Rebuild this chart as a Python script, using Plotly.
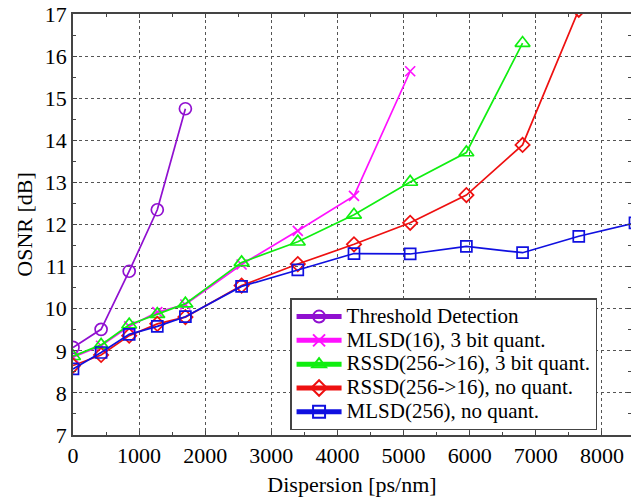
import plotly.graph_objects as go

disp = [0, 425, 850, 1275, 1700, 2550, 3400, 4250, 5100, 5950, 6800, 7650, 8500]

thr = [9.08, 9.51, 10.89, 12.35, 14.75]
mlsd16_q = [8.85, 9.12, 9.58, 9.92, 10.1, 11.05, 11.85, 12.68, 15.64]
rssd_q = [8.87, 9.14, 9.62, 9.87, 10.12, 11.1, 11.59, 12.23, 13.01, 13.71, 16.31]
rssd_nq = [8.65, 8.9, 9.36, 9.64, 9.8, 10.55, 11.06, 11.53, 12.04, 12.7, 13.89, 17.1]
mlsd256 = [8.57, 8.96, 9.39, 9.58, 9.81, 10.53, 10.92, 11.31, 11.3, 11.48, 11.33, 11.72, 12.04]

names = ["Threshold Detection", "MLSD(16), 3 bit quant.", "RSSD(256->16), 3 bit quant.",
         "RSSD(256->16), no quant.", "MLSD(256), no quant."]
series = [thr, mlsd16_q, rssd_q, rssd_nq, mlsd256]
colors = ["#9010d0", "#ff10ff", "#10ee10", "#ee1010", "#1010e0"]
symbols = ["circle-open", "x-thin-open", "triangle-up-open", "diamond-open", "square-open"]
sizes = [12, 10, 13, 11, 11]

FAM = "Liberation Serif"
fig = go.Figure()
for n, s, c, sym, sz in zip(names, series, colors, symbols, sizes):
    fig.add_trace(go.Scatter(
        x=disp[:len(s)], y=s,
        name='<span style="font-size:21px">' + n.replace(">", "&gt;") + '</span>',
        mode="lines+markers",
        line=dict(color=c, width=1.7),
        marker=dict(symbol=sym, size=sz, color=c, line=dict(color=c, width=1.7)),
    ))

axcommon = dict(
    showgrid=True, gridcolor="#555", griddash="dot", gridwidth=1,
    showline=True, linecolor="#444", linewidth=1.5, mirror="allticks",
    ticks="inside", ticklen=4, tickcolor="#444", zeroline=False,
    tickfont=dict(family=FAM, size=22, color="black"), automargin=False,
    ticklabeloverflow="allow",
)
fig.update_layout(
    width=631, height=499,
    margin=dict(l=73, r=0, t=14, b=64),
    paper_bgcolor="white", plot_bgcolor="white",
    font=dict(family=FAM, size=22, color="black"),
    xaxis=dict(range=[0, 8440], dtick=1000,
               title=dict(text="Dispersion [ps/nm]", font=dict(family=FAM, size=22, color="black"), standoff=9),
               ticklabelstandoff=0,
               minor=dict(dtick=500, ticks="inside", ticklen=3, tickcolor="#444", showgrid=False),
               **axcommon),
    yaxis=dict(range=[7, 17], dtick=1,
               title=dict(text="OSNR [dB]", font=dict(family=FAM, size=22, color="black"), standoff=6),
               ticklabelstandoff=0,
               minor=dict(dtick=0.5, ticks="inside", ticklen=3, tickcolor="#444", showgrid=False),
               **axcommon),
    legend=dict(x=0.389, y=0.325, xanchor="left", yanchor="top",
                bgcolor="white", bordercolor="#444", borderwidth=1.5,
                font=dict(family=FAM, size=16, color="black"),
                tracegroupgap=0, itemsizing="constant", itemwidth=45),
    showlegend=True,
)
fig.write_html("out.html", config={"displayModeBar": False},
               post_script="document.body.style.margin='0';")
